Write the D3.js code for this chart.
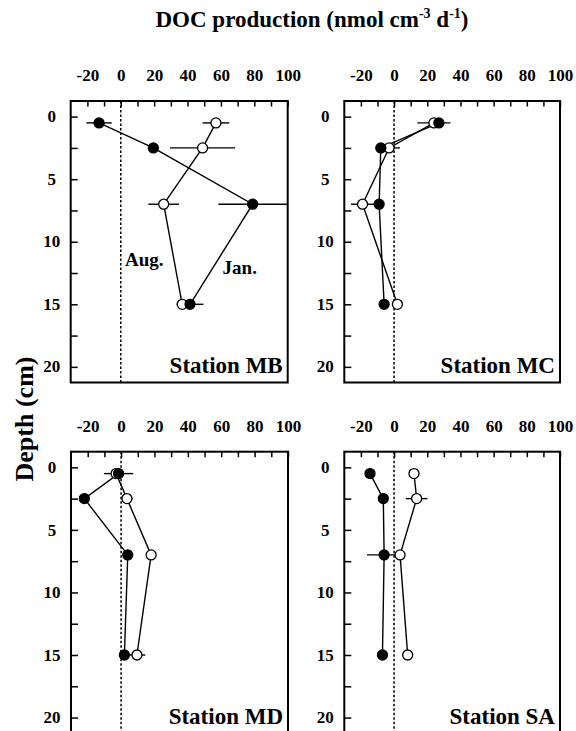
<!DOCTYPE html>
<html>
<head>
<meta charset="utf-8">
<script src="https://cdn.jsdelivr.net/npm/d3@7"></script>
<style>
  body { margin: 0; background: #fff; }
  text { font-family: "Liberation Serif", "Tinos", "Times New Roman", Times, "DejaVu Serif", serif; font-weight: bold; fill: #000; }
</style>
</head>
<body>
<script>
// depth of each sample (cm)
var depths = [0.5, 2.5, 7, 15];
var stations = ["MB", "MC", "MD", "SA"];

// DOC production, January (filled) and August (open), with +/- error
var janMB = [-13, 19.5, 79, 41.5],  janMBErr = [7.6, 2, 20.5, 8];
var augMB = [57, 49, 25.7, 36.8],   augMBErr = [8, 19.5, 9.2, 3];
var janMC = [27, -8, -9, -6],       janMCErr = [3, 2, 2, 1];
var augMC = [24, -3, -19, 2],       augMCErr = [10, 6.5, 7, 1];
var janMD = [-1.5, -22, 4, 2],      janMDErr = [8.8, 1, 1, 1];
var augMD = [-3, 3.5, 18, 9.5],     augMDErr = [2, 3.5, 2, 5];
var janSA = [-14.5, -6.5, -6, -7],  janSAErr = [1, 1, 10.3, 1];
var augSA = [12, 13.6, 3.6, 8.2],   augSAErr = [1, 6.5, 2, 1];

var xTicks = [-20, -10, 0, 10, 20, 30, 40, 50, 60, 70, 80, 90, 100];
var xLabels = [-20, 0, 20, 40, 60, 80, 100];
var yTicks = [0, 2.5, 5, 7.5, 10, 12.5, 15, 17.5, 20];
var yLabels = [0, 5, 10, 15, 20];

var series = {
  MB: { jan: janMB, janErr: janMBErr, aug: augMB, augErr: augMBErr },
  MC: { jan: janMC, janErr: janMCErr, aug: augMC, augErr: augMCErr },
  MD: { jan: janMD, janErr: janMDErr, aug: augMD, augErr: augMDErr },
  SA: { jan: janSA, janErr: janSAErr, aug: augSA, augErr: augSAErr }
};

var W = 576, H = 731;
var svg = d3.select("body").append("svg")
    .attr("width", W)
    .attr("height", H);

// panel placement
var layout = {
  MB: { x: 70.7, y: 101, w: 217 },
  MC: { x: 344.3, y: 101, w: 215.7 },
  MD: { x: 71, y: 451.7, w: 217 },
  SA: { x: 344.3, y: 451.7, w: 215.7 }
};
var ph = 281.5;

// title
var title = svg.append("text")
    .attr("x", 312)
    .attr("y", 27)
    .attr("text-anchor", "middle")
    .style("font-size", "23px");
title.append("tspan").text("DOC production (nmol cm");
title.append("tspan").attr("dy", -9).style("font-size", "14px").text("-3");
title.append("tspan").attr("dy", 9).text(" d");
title.append("tspan").attr("dy", -9).style("font-size", "14px").text("-1");
title.append("tspan").attr("dy", 9).text(")");

// y axis label
svg.append("text")
    .attr("transform", "translate(33,419) rotate(-90)")
    .attr("text-anchor", "middle")
    .style("font-size", "26px")
    .text("Depth (cm)");

stations.forEach(function(st) {
  var p = layout[st];
  var s = series[st];

  var x = d3.scaleLinear().domain([-30, 100]).range([0, p.w]);
  var y = d3.scaleLinear().domain([-1.25, 21.25]).range([0, ph]);

  var g = svg.append("g").attr("transform", "translate(" + p.x + "," + p.y + ")");

  // top axis
  var xa = g.append("g")
      .call(d3.axisTop(x)
        .tickValues(xTicks)
        .tickSizeInner(-5.5)
        .tickSizeOuter(0)
        .tickPadding(20)
        .tickFormat(function(d) { return xLabels.indexOf(d) >= 0 ? d : ""; }));
  xa.attr("font-family", null).attr("font-size", null);
  xa.select(".domain").remove();
  xa.selectAll("line").attr("stroke", "#000").attr("stroke-width", 1.5);
  xa.selectAll("text")
      .attr("fill", "#000")
      .style("font-size", "17px");

  // left axis
  var ya = g.append("g")
      .call(d3.axisLeft(y)
        .tickValues(yTicks)
        .tickSizeInner(-7)
        .tickSizeOuter(0)
        .tickFormat(function(d) { return yLabels.indexOf(d) >= 0 ? d : ""; }));
  ya.attr("font-family", null).attr("font-size", null);
  ya.select(".domain").remove();
  ya.selectAll("line").attr("stroke", "#000").attr("stroke-width", 1.5);
  ya.selectAll("text")
      .attr("x", -19)
      .attr("dy", "0.3em")
      .attr("text-anchor", "middle")
      .attr("fill", "#000")
      .style("font-size", "17px");

  // zero line
  g.append("line")
      .attr("x1", x(0)).attr("x2", x(0))
      .attr("y1", 0).attr("y2", ph)
      .attr("stroke", "#000")
      .attr("stroke-width", 1.5)
      .attr("stroke-dasharray", "2.5,2");

  // frame
  g.append("rect")
      .attr("x", 0).attr("y", 0)
      .attr("width", p.w).attr("height", ph)
      .attr("fill", "none")
      .attr("stroke", "#000")
      .attr("stroke-width", 2);

  var line = d3.line()
      .x(function(d) { return x(d[0]); })
      .y(function(d) { return y(d[1]); });

  ["aug", "jan"].forEach(function(m) {
    var vals = s[m], errs = s[m + "Err"];
    var pts = vals.map(function(v, i) { return [v, depths[i], errs[i]]; });

    g.append("path")
        .datum(pts)
        .attr("d", line)
        .attr("fill", "none")
        .attr("stroke", "#000")
        .attr("stroke-width", 1.4);

    g.selectAll(".err-" + m)
      .data(pts)
      .enter().append("line")
        .attr("x1", function(d) { return Math.max(0, x(d[0] - d[2])); })
        .attr("x2", function(d) { return Math.min(p.w, x(d[0] + d[2])); })
        .attr("y1", function(d) { return y(d[1]); })
        .attr("y2", function(d) { return y(d[1]); })
        .attr("stroke", "#000")
        .attr("stroke-width", 1.4);
  });

  // markers: August open, January filled on top
  ["aug", "jan"].forEach(function(m) {
    var vals = s[m];
    g.selectAll(".pt-" + m)
      .data(vals)
      .enter().append("circle")
        .attr("cx", function(d) { return x(d); })
        .attr("cy", function(d, i) { return y(depths[i]); })
        .attr("r", 5)
        .attr("fill", m === "jan" ? "#000" : "#fff")
        .attr("stroke", "#000")
        .attr("stroke-width", 1.3);
  });

  // station label
  g.append("text")
      .attr("x", p.w - 5)
      .attr("y", y(20.5))
      .attr("text-anchor", "end")
      .style("font-size", "23px")
      .text("Station " + st);

  if (st === "MB") {
    g.append("text")
        .attr("x", x(2.5))
        .attr("y", y(11.9))
        .style("font-size", "19px")
        .text("Aug.");
    g.append("text")
        .attr("x", x(61))
        .attr("y", y(12.55))
        .style("font-size", "19px")
        .text("Jan.");
  }
});
</script>
</body>
</html>
